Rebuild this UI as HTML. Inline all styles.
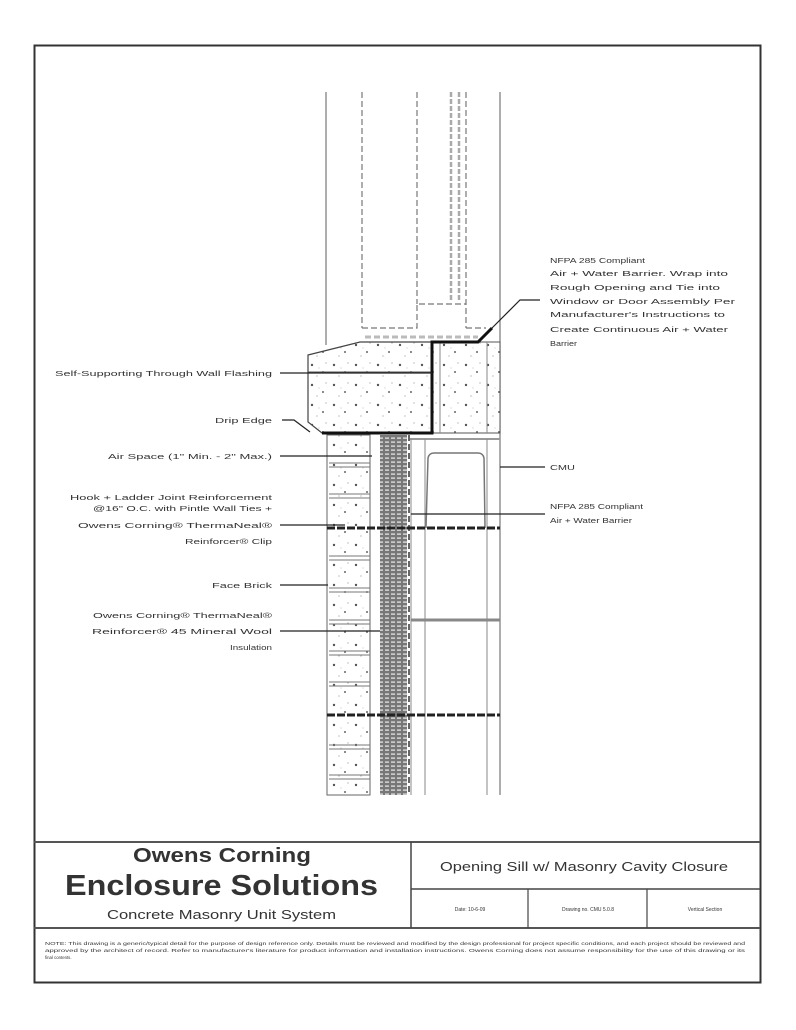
<!DOCTYPE html>
<html><head><meta charset="utf-8"><style>
html,body{margin:0;padding:0;background:#fff}
svg{display:block}
text{font-family:"Liberation Sans",sans-serif;fill:#333}
.l{font-size:7.5px}
</style></head><body>
<svg width="796" height="1030" viewBox="0 0 796 1030" xmlns="http://www.w3.org/2000/svg">
<defs>
<pattern id="ins" width="6" height="4" patternUnits="userSpaceOnUse"><rect width="6" height="4" fill="#777"/><rect x="1" y="1.5" width="4" height="1.2" fill="#eee"/></pattern>
<pattern id="conc" width="22" height="20" patternUnits="userSpaceOnUse"><rect width="22" height="20" fill="#fff"/><circle cx="4" cy="5" r="1.2" fill="#555"/><circle cx="15" cy="12" r="1" fill="#666"/><circle cx="9" cy="16" r="0.6" fill="#999"/><circle cx="18" cy="3" r="0.6" fill="#999"/><circle cx="11" cy="8" r="0.5" fill="#aaa"/></pattern>
</defs>
<rect x="34.5" y="45.5" width="726" height="937" fill="none" stroke="#333" stroke-width="2"/>
<line x1="34" y1="842" x2="760" y2="842" stroke="#555" stroke-width="2"/>
<line x1="34" y1="928" x2="760" y2="928" stroke="#555" stroke-width="2"/>
<line x1="411" y1="842" x2="411" y2="928" stroke="#444" stroke-width="1.5"/>
<line x1="411" y1="889" x2="760" y2="889" stroke="#444" stroke-width="1.5"/>
<line x1="528" y1="889" x2="528" y2="928" stroke="#444" stroke-width="1.2"/>
<line x1="647" y1="889" x2="647" y2="928" stroke="#444" stroke-width="1.2"/>
<text x="133" y="862" font-size="20" font-weight="bold" textLength="178" lengthAdjust="spacingAndGlyphs" fill="#111">Owens Corning</text>
<text x="65" y="895" font-size="29" font-weight="bold" textLength="313" lengthAdjust="spacingAndGlyphs" fill="#111">Enclosure Solutions</text>
<text x="107" y="919" font-size="13" textLength="229" lengthAdjust="spacingAndGlyphs">Concrete Masonry Unit System</text>
<text x="440" y="871" font-size="13" textLength="288" lengthAdjust="spacingAndGlyphs">Opening Sill w/ Masonry Cavity Closure</text>
<text x="470" y="911" font-size="5" text-anchor="middle">Date: 10-6-09</text>
<text x="588" y="911" font-size="5" text-anchor="middle">Drawing no. CMU 5.0.8</text>
<text x="705" y="911" font-size="5" text-anchor="middle">Vertical Section</text>
<text x="45" y="945" font-size="4.3" textLength="700" lengthAdjust="spacingAndGlyphs">NOTE: This drawing is a generic/typical detail for the purpose of design reference only. Details must be reviewed and modified by the design professional for project specific conditions, and each project should be reviewed and</text>
<text x="45" y="952" font-size="4.3" textLength="700" lengthAdjust="spacingAndGlyphs">approved by the architect of record. Refer to manufacturer's literature for product information and installation instructions. Owens Corning does not assume responsibility for the use of this drawing or its</text>
<text x="45" y="959" font-size="4.3">final contents.</text>

<line x1="326" y1="92" x2="326" y2="345" stroke="#777" stroke-width="1.2"/>
<line x1="500" y1="92" x2="500" y2="795" stroke="#777" stroke-width="1.2"/>
<g stroke="#777" stroke-width="1.2" stroke-dasharray="6,3" fill="none">
<line x1="362" y1="92" x2="362" y2="328"/>
<line x1="417" y1="92" x2="417" y2="304"/>
<line x1="466" y1="92" x2="466" y2="328"/>
<polyline points="362,328 417,328 417,304 466,304"/>
<line x1="466" y1="328" x2="486" y2="328"/>
<line x1="365" y1="337" x2="478" y2="337" stroke="#bbb" stroke-width="3"/>
</g>
<g stroke="#aaa" stroke-width="2.5" stroke-dasharray="5,2">
<line x1="451" y1="92" x2="451" y2="300"/><line x1="459" y1="92" x2="459" y2="300"/>
</g>
<path d="M308,355 L360,342 L432,342 L432,433 L322,433 L308,422 Z" fill="url(#conc)" stroke="#444" stroke-width="1.2"/>
<rect x="432" y="342" width="68" height="91" fill="url(#conc)" stroke="#555"/>
<line x1="440" y1="342" x2="440" y2="433" stroke="#888"/>
<line x1="487" y1="342" x2="487" y2="433" stroke="#888"/>
<line x1="308" y1="372" x2="432" y2="372" stroke="#555"/>
<polyline points="322,433 432,433 432,342 478,342 492,328" fill="none" stroke="#111" stroke-width="3"/>
<line x1="410" y1="439" x2="500" y2="439" stroke="#999" stroke-width="2"/>
<rect x="327" y="435" width="43" height="360" fill="url(#conc)" stroke="#666"/>
<g stroke="#777" stroke-width="1">
<line x1="329" y1="463" x2="370" y2="463"/><line x1="329" y1="467" x2="370" y2="467"/>
<line x1="329" y1="494" x2="370" y2="494"/><line x1="329" y1="498" x2="370" y2="498"/>
<line x1="329" y1="556" x2="370" y2="556"/><line x1="329" y1="560" x2="370" y2="560"/>
<line x1="329" y1="588" x2="370" y2="588"/><line x1="329" y1="592" x2="370" y2="592"/>
<line x1="329" y1="620" x2="370" y2="620"/><line x1="329" y1="624" x2="370" y2="624"/>
<line x1="329" y1="651" x2="370" y2="651"/><line x1="329" y1="655" x2="370" y2="655"/>
<line x1="329" y1="682" x2="370" y2="682"/><line x1="329" y1="686" x2="370" y2="686"/>
<line x1="329" y1="745" x2="370" y2="745"/><line x1="329" y1="749" x2="370" y2="749"/>
<line x1="329" y1="775" x2="370" y2="775"/><line x1="329" y1="779" x2="370" y2="779"/>
</g>
<rect x="380" y="435" width="27" height="360" fill="url(#ins)"/>
<line x1="409" y1="435" x2="409" y2="795" stroke="#333" stroke-width="1.5" stroke-dasharray="6,3"/>
<line x1="411" y1="439" x2="411" y2="795" stroke="#888"/>
<line x1="425" y1="439" x2="425" y2="795" stroke="#888"/>
<line x1="487" y1="439" x2="487" y2="795" stroke="#888"/>
<path d="M426,528 L428,458 Q429,453 434,453 L478,453 Q483,453 484,458 L485,528" fill="none" stroke="#777" stroke-width="1.5"/>
<line x1="411" y1="620" x2="500" y2="620" stroke="#888" stroke-width="3"/>
<line x1="411" y1="514" x2="500" y2="514" stroke="#555"/>
<line x1="327" y1="528" x2="500" y2="528" stroke="#222" stroke-width="3" stroke-dasharray="8,2"/>
<line x1="327" y1="715" x2="500" y2="715" stroke="#222" stroke-width="3" stroke-dasharray="8,2"/>

<g stroke="#222" stroke-width="1.2" fill="none">
<line x1="280" y1="373" x2="432" y2="373"/>
<polyline points="282,420 294,420 310,432"/>
<line x1="280" y1="456" x2="372" y2="456"/>
<line x1="280" y1="525" x2="345" y2="525"/>
<line x1="280" y1="585" x2="328" y2="585"/>
<line x1="280" y1="631" x2="380" y2="631"/>
<polyline points="540,300 520,300 492,328"/>
<line x1="500" y1="467" x2="545" y2="467"/>
<line x1="411" y1="514" x2="545" y2="514"/>
</g>
<g class="l" text-anchor="end">
<text x="272" y="376" textLength="217" lengthAdjust="spacingAndGlyphs">Self-Supporting Through Wall Flashing</text>
<text x="272" y="423" textLength="57" lengthAdjust="spacingAndGlyphs">Drip Edge</text>
<text x="272" y="459" textLength="164" lengthAdjust="spacingAndGlyphs">Air Space (1" Min. - 2" Max.)</text>
<text x="272" y="500" textLength="202" lengthAdjust="spacingAndGlyphs">Hook + Ladder Joint Reinforcement</text>
<text x="272" y="511" textLength="179" lengthAdjust="spacingAndGlyphs">@16" O.C. with Pintle Wall Ties +</text>
<text x="272" y="528" textLength="194" lengthAdjust="spacingAndGlyphs">Owens Corning® ThermaNeal®</text>
<text x="272" y="544" textLength="87" lengthAdjust="spacingAndGlyphs">Reinforcer® Clip</text>
<text x="272" y="588" textLength="60" lengthAdjust="spacingAndGlyphs">Face Brick</text>
<text x="272" y="618" textLength="179" lengthAdjust="spacingAndGlyphs">Owens Corning® ThermaNeal®</text>
<text x="272" y="634" textLength="180" lengthAdjust="spacingAndGlyphs">Reinforcer® 45 Mineral Wool</text>
<text x="272" y="650" textLength="42" lengthAdjust="spacingAndGlyphs">Insulation</text>
</g>
<g class="l">
<text x="550" y="263" textLength="95" lengthAdjust="spacingAndGlyphs">NFPA 285 Compliant</text>
<text x="550" y="276" textLength="178" lengthAdjust="spacingAndGlyphs">Air + Water Barrier. Wrap into</text>
<text x="550" y="290" textLength="170" lengthAdjust="spacingAndGlyphs">Rough Opening and Tie into</text>
<text x="550" y="304" textLength="185" lengthAdjust="spacingAndGlyphs">Window or Door Assembly Per</text>
<text x="550" y="317" textLength="175" lengthAdjust="spacingAndGlyphs">Manufacturer's Instructions to</text>
<text x="550" y="332" textLength="178" lengthAdjust="spacingAndGlyphs">Create Continuous Air + Water</text>
<text x="550" y="346" textLength="27" lengthAdjust="spacingAndGlyphs">Barrier</text>
<text x="550" y="470" textLength="25" lengthAdjust="spacingAndGlyphs">CMU</text>
<text x="550" y="509" textLength="93" lengthAdjust="spacingAndGlyphs">NFPA 285 Compliant</text>
<text x="550" y="523" textLength="82" lengthAdjust="spacingAndGlyphs">Air + Water Barrier</text>
</g>
</svg>
</body></html>
